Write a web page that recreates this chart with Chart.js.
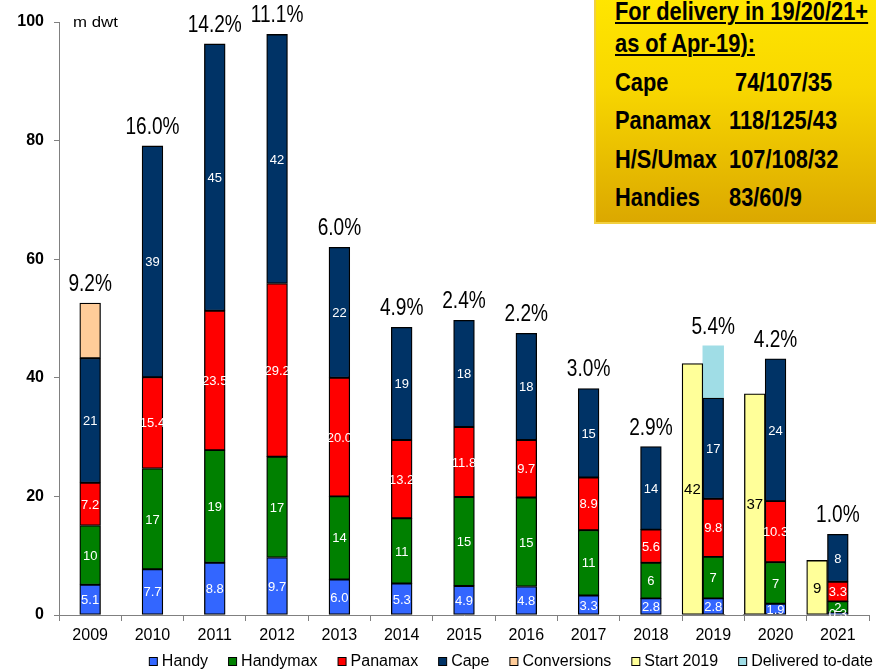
<!DOCTYPE html>
<html>
<head>
<meta charset="utf-8">
<script src="https://cdn.jsdelivr.net/npm/chart.js@4"></script>
<style>
html,body{margin:0;padding:0;background:#fff;}
#wrap{position:relative;width:876px;height:671px;overflow:hidden;}
#c{position:absolute;left:0;top:0;}
#box{position:absolute;left:594px;top:-4px;width:290px;height:228px;box-sizing:border-box;border-left:2px solid #F2D040;border-bottom:2px solid #F2D040;background:linear-gradient(to bottom,#FFE600 0%,#F8D700 40%,#DBA800 100%);}
.t{position:absolute;font-family:"Liberation Sans",Arial,sans-serif;font-weight:bold;font-size:26px;line-height:26px;color:#000;white-space:pre;transform:scaleX(0.84);transform-origin:0 0;}
.u{text-decoration:underline;text-decoration-thickness:2px;text-underline-offset:2px;}
</style>
</head>
<body>
<div id="wrap">
<canvas id="c" width="876" height="671"></canvas>
<div id="box"></div>
<div class="t u" style="left:615px;top:-2px;">For delivery in 19/20/21+</div>
<div class="t u" style="left:615px;top:30px;">as of Apr-19):</div>
<div class="t" style="left:615px;top:69px;">Cape</div>
<div class="t" style="left:735px;top:69px;">74/107/35</div>
<div class="t" style="left:615px;top:107px;">Panamax</div>
<div class="t" style="left:729px;top:107px;">118/125/43</div>
<div class="t" style="left:615px;top:146px;">H/S/Umax</div>
<div class="t" style="left:729px;top:146px;">107/108/32</div>
<div class="t" style="left:615px;top:184px;">Handies</div>
<div class="t" style="left:729px;top:184px;">83/60/9</div>
</div>
<script>
const categories = ['2009','2010','2011','2012','2013','2014','2015','2016','2017','2018','2019','2020','2021'];
const handy      = [5.1, 7.7, 8.8, 9.7, 6.0, 5.3, 4.9, 4.8, 3.3, 2.8, 2.8, 1.9, 0.3];
const handymax   = [10, 17, 19, 17, 14, 11, 15, 15, 11, 6, 7, 7, 2];
const panamax    = [7.2, 15.4, 23.5, 29.2, 20.0, 13.2, 11.8, 9.7, 8.9, 5.6, 9.8, 10.3, 3.3];
const cape       = [21, 39, 45, 42, 22, 19, 18, 18, 15, 14, 17, 24, 8];
const conversions= [9.3, null, null, null, null, null, null, null, null, null, null, null, null];
const start2019  = [null, null, null, null, null, null, null, null, null, null, 42.4, 37.3, 9.2];
const delivered  = [null, null, null, null, null, null, null, null, null, null, 8.8, null, null];
const other      = [null, null, null, null, null, null, null, null, null, null, 0.1, null, null];
const growth     = ['9.2%','16.0%','14.2%','11.1%','6.0%','4.9%','2.4%','2.2%','3.0%','2.9%','5.4%','4.2%','1.0%'];
const yTicks     = [0, 20, 40, 60, 80, 100];

const FONT = '"Liberation Sans", Arial, sans-serif';
const seg = {borderColor:'#000', borderWidth:1.3, borderSkipped:false, stack:'main'};

const labelPlugin = {
  id:'labels',
  afterDatasetsDraw(chart){
    const ctx = chart.ctx;
    const ds = chart.data.datasets;
    ctx.save();
    const fmt = [v=>v.toFixed(1), v=>String(Math.round(v)), v=>v.toFixed(1), v=>String(Math.round(v))];
    for (let d=0; d<4; d++){
      const meta = chart.getDatasetMeta(d);
      meta.data.forEach((el,i)=>{
        const v = ds[d].data[i];
        if (v==null) return;
        ctx.font = '13px '+FONT;
        ctx.fillStyle = '#fff';
        ctx.textAlign='center'; ctx.textBaseline='middle';
        ctx.fillText(fmt[d](v), el.x, (el.y+el.base)/2+1);
      });
    }
    const sm = chart.getDatasetMeta(5);
    sm.data.forEach((el,i)=>{
      const v = ds[5].data[i];
      if (v==null) return;
      ctx.font = '15px '+FONT;
      ctx.fillStyle = '#000';
      ctx.textAlign='center'; ctx.textBaseline='middle';
      ctx.fillText(String(Math.round(v)), el.x, (el.y+el.base)/2+1);
    });
    const xs = chart.scales.x;
    categories.forEach((c,i)=>{
      let top = Infinity;
      for (let k=0; k<7; k++){
        if (ds[k].data[i]==null) continue;
        const el = chart.getDatasetMeta(k).data[i];
        if (el) top = Math.min(top, el.y);
      }
      ctx.save();
      ctx.translate(xs.getPixelForValue(i), top-12);
      ctx.scale(0.83,1);
      ctx.font = '23px '+FONT;
      ctx.fillStyle='#000';
      ctx.textAlign='center'; ctx.textBaseline='alphabetic';
      ctx.fillText(growth[i],0,0);
      ctx.restore();
    });
    ctx.save();
    ctx.translate(73,27);
    ctx.scale(1.2,1);
    ctx.font='14px '+FONT;
    ctx.fillStyle='#000';
    ctx.textAlign='left'; ctx.textBaseline='alphabetic';
    ctx.fillText('m dwt',0,0);
    ctx.restore();
    ctx.font = '16px '+FONT;
    const items = ds.filter(d=>d.label);
    const widths = items.map(d=>ctx.measureText(d.label).width);
    let total = widths.reduce((a,b)=>a+b,0) + items.length*13 + (items.length-1)*20;
    let x = 873 - total;
    items.forEach((d,k)=>{
      ctx.fillStyle = d.backgroundColor;
      ctx.fillRect(x+0.5,657.5,8,8);
      ctx.strokeStyle='#000'; ctx.lineWidth=1;
      ctx.strokeRect(x+0.5,657.5,8,8);
      ctx.fillStyle='#000';
      ctx.textAlign='left'; ctx.textBaseline='middle';
      ctx.fillText(d.label, x+13, 662);
      x += 13 + widths[k] + 20;
    });
    ctx.restore();
  }
};

new Chart(document.getElementById('c'), {
  type:'bar',
  data:{
    labels:categories,
    datasets:[
      Object.assign({label:'Handy', data:handy, backgroundColor:'#3366FF'}, seg),
      Object.assign({label:'Handymax', data:handymax, backgroundColor:'#008000'}, seg),
      Object.assign({label:'Panamax', data:panamax, backgroundColor:'#FF0000'}, seg),
      Object.assign({label:'Cape', data:cape, backgroundColor:'#003366'}, seg),
      Object.assign({label:'Conversions', data:conversions, backgroundColor:'#FFCC99'}, seg),
      Object.assign({}, seg, {label:'Start 2019', data:start2019, backgroundColor:'#FFFF99', stack:'start', order:-1}),
      Object.assign({}, seg, {label:'Delivered to-date', data:delivered, backgroundColor:'#A0DDE6', borderWidth:0}),
      Object.assign({}, seg, {label:'', data:other, stack:'right', order:1, backgroundColor:'#FFFFFF'})
    ]
  },
  options:{
    responsive:false,
    animation:false,
    layout:{padding:{left:0,right:7,top:22,bottom:20}},
    datasets:{bar:{categoryPercentage:1, barPercentage:1}},
    plugins:{legend:{display:false}, tooltip:{enabled:false}},
    scales:{
      x:{
        stacked:true,
        grid:{display:true, drawOnChartArea:false, drawTicks:true, tickLength:6, color:'#808080', offset:true},
        border:{color:'#808080', width:1},
        ticks:{color:'#000', font:{family:FONT, size:16}, padding:5, maxRotation:0, autoSkip:false},
        afterFit(s){ s.height = 36; }
      },
      y:{
        stacked:true, min:0, max:100,
        afterBuildTicks(s){ s.ticks = yTicks.map(v=>({value:v})); },
        grid:{display:true, drawOnChartArea:false, drawTicks:true, tickLength:5, color:'#808080'},
        border:{color:'#808080', width:1},
        ticks:{color:'#000', font:{family:FONT, size:16, weight:'bold'}, padding:10},
        afterFit(s){ s.width = 59; }
      }
    }
  },
  plugins:[labelPlugin]
});
</script>
</body>
</html>
